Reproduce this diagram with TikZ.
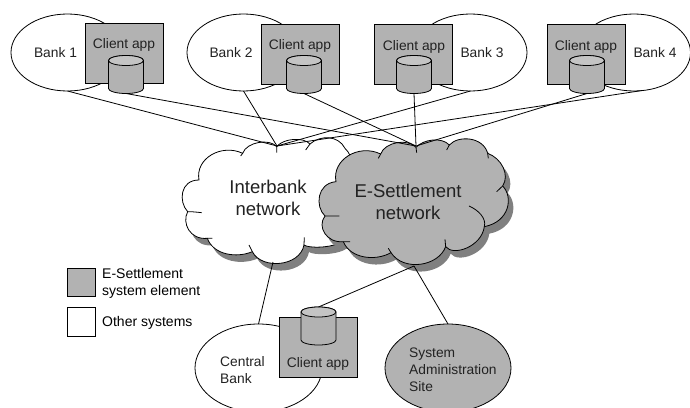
\documentclass[tikz,border=0pt]{standalone}
\usepackage{fontspec}
\setmainfont{Liberation Sans}
\usetikzlibrary{shapes.geometric}

\definecolor{elementgrey}{HTML}{B2B2B2}
\definecolor{endgrey}{HTML}{C4C4C4}
\definecolor{shadowgrey}{HTML}{808080}
\definecolor{textgrey}{HTML}{222222}

\tikzset{
    outline/.style={line width=0.8pt, draw=black},
    bank/.style={outline, ellipse, fill=white, minimum width=113pt, minimum height=77pt, inner sep=0pt, outer sep=0pt},
    admin/.style={bank, fill=elementgrey, minimum width=126pt, minimum height=88pt},
    appbox/.style={outline, fill=elementgrey, minimum width=78pt, minimum height=60pt, inner sep=0pt, outer sep=0pt},
    storebody/.style={minimum width=35pt, minimum height=38pt, inner sep=0pt, outer sep=0pt},
    label/.style={font=\fontsize{13.8}{17}\selectfont, text=textgrey, inner sep=0pt, align=left},
    bigLabel/.style={font=\fontsize{18.5}{21.5}\selectfont, text=textgrey, inner sep=0pt, align=center},
    legendbox/.style={outline, minimum width=28.5pt, minimum height=28.5pt, inner sep=0pt, outer sep=0pt},
    link/.style={line width=0.8pt}
}

% A store: name, then position
\newcommand{\storage}[2]{
    \node[storebody] (#1) at (#2) {};
    \draw[outline, fill=elementgrey] ([yshift=-5pt]#1.north west)
        -- ([yshift=5pt]#1.south west)
        arc[start angle=180, end angle=360, x radius=17.5pt, y radius=5pt]
        -- ([yshift=-5pt]#1.north east)
        arc[start angle=0, end angle=180, x radius=17.5pt, y radius=5pt] -- cycle;
    \draw[outline, fill=endgrey] ([yshift=-5pt]#1.north) ellipse [x radius=17.5pt, y radius=5pt];
}

% Cloud outlines, in units of a third of a pixel
\newcommand{\interbankpath}{
    (72,150) .. controls (60,85) and (140,40) .. (203,70)
    .. controls (215,35) and (285,25) .. (305,50)
    .. controls (325,25) and (385,20) .. (405,42)
    .. controls (435,15) and (490,15) .. (510,55)
    .. controls (560,100) and (560,300) .. (500,335)
    .. controls (470,355) and (400,355) .. (387,345)
    .. controls (375,410) and (260,420) .. (232,365)
    .. controls (185,385) and (115,375) .. (97,325)
    .. controls (45,330) and (20,280) .. (38,245)
    .. controls (10,215) and (15,150) .. (72,150) -- cycle}
\newcommand{\interbankticks}{
    (203,70) -- (197,78)
    (305,50) -- (305,68)
    (405,42) -- (392,60)
    (387,345) -- (388,322)
    (232,365) -- (222,345)
    (97,325) -- (112,325)
    (38,245) .. controls (50,245) .. (80,248)}
\newcommand{\settlementpath}{
    (78,155) .. controls (65,90) and (145,40) .. (212,72)
    .. controls (225,35) and (295,25) .. (318,52)
    .. controls (340,28) and (395,20) .. (418,45)
    .. controls (445,15) and (520,20) .. (533,70)
    .. controls (575,85) and (600,135) .. (578,168)
    .. controls (610,200) and (600,275) .. (523,290)
    .. controls (515,350) and (430,380) .. (407,350)
    .. controls (385,410) and (280,425) .. (243,368)
    .. controls (195,395) and (120,385) .. (100,335)
    .. controls (50,340) and (20,290) .. (45,258)
    .. controls (15,230) and (20,160) .. (78,155) -- cycle}
\newcommand{\settlementticks}{
    (212,72) -- (205,85)
    (318,52) -- (320,68)
    (418,45) -- (410,60)
    (533,70) -- (535,85)
    (578,168) -- (560,185)
    (523,290) .. controls (530,265) and (505,240) .. (477,228)
    (407,350) -- (405,328)
    (243,368) -- (235,355)
    (100,335) -- (120,335)
    (45,258) .. controls (60,258) .. (88,258)}

\begin{document}
\begin{tikzpicture}[x=1pt, y=-1pt]
    \useasboundingbox (0,0) rectangle (690,407);
    \clip (0,0) rectangle (690,407);

    % Banks along the top, each with its client app and store
    \node[bank] (bank1) at (67.5,52.5) {};
    \node[appbox] (app1) at (124,53) {};
    \storage{store1}{126,74.5}
    \node[label] (bank1text) at (55.5,53) {Bank 1};
    \node[label] (app1text) at (124,45) {Client app};

    \node[bank] (bank2) at (243.5,52.5) {};
    \node[appbox] (app2) at (300,54) {};
    \storage{store2}{304,74.5}
    \node[label] (bank2text) at (231,53) {Bank 2};
    \node[label] (app2text) at (300,46) {Client app};

    \node[bank] (bank3) at (470.5,52.5) {};
    \node[appbox] (app3) at (413.5,54.5) {};
    \storage{store3}{414,74.5}
    \node[label] (bank3text) at (482,53) {Bank 3};
    \node[label] (app3text) at (414,47) {Client app};

    \node[bank] (bank4) at (634,52.5) {};
    \node[appbox] (app4) at (586.5,54.5) {};
    \storage{store4}{587,74.5}
    \node[label] (bank4text) at (655,53) {Bank 4};
    \node[label] (app4text) at (586,47) {Client app};

    % Central bank and administration site
    \node[bank, minimum width=127pt, minimum height=88pt] (central) at (258.5,368) {};
    \node[appbox] (app5) at (318,347) {};
    \storage{store5}{318.5,326}
    \node[label] (centraltext) at (220,370) [anchor=west] {Central\\Bank};
    \node[label] (app5text) at (318,364) {Client app};
    \node[admin] (site) at (448,368) {};
    \node[label] (sitetext) at (409,370) [anchor=west] {System\\Administration\\Site};

    % Clouds with their shadows
    \begin{scope}[shift={(180,137)}, x=0.3333pt, y=-0.3333pt]
        \fill[shadowgrey] \interbankpath;
    \end{scope}
    \begin{scope}[shift={(175,130)}, x=0.3333pt, y=-0.3333pt]
        \draw[outline, fill=white] \interbankpath;
        \draw[outline] \interbankticks;
    \end{scope}
    \begin{scope}[shift={(315,137)}, x=0.3333pt, y=-0.3333pt]
        \fill[shadowgrey] \settlementpath;
    \end{scope}
    \begin{scope}[shift={(310,130)}, x=0.3333pt, y=-0.3333pt]
        \draw[outline, fill=elementgrey] \settlementpath;
        \draw[outline] \settlementticks;
    \end{scope}
    \node[bigLabel] (interbanktext) at (268,198) {Interbank\\network};
    \node[bigLabel] (settlementtext) at (408,202) {E-Settlement\\network};

    % Links into the clouds
    \coordinate (interhub) at (277,146);
    \coordinate (settlehub) at (416,146);
    \coordinate (interfoot) at (273,262);
    \coordinate (settlefoot) at (414,266);

    \draw[link] (bank1.south) -- (interhub);
    \draw[link] (bank2.south) -- (interhub);
    \draw[link] (bank3.south) -- (interhub);
    \draw[link] (bank4.-80) -- (interhub);
    \draw[link] (store1.south) -- (settlehub);
    \draw[link] (store2.south) -- (settlehub);
    \draw[link] (store3.south) -- (settlehub);
    \draw[link] (store4.south) -- (settlehub);
    \draw[link] (interfoot) -- (central.north);
    \draw[link] (settlefoot) -- (store5.north);
    \draw[link] (settlefoot) -- (site.north);

    % Legend
    \node[legendbox, fill=elementgrey] (keyelement) at (81.5,282.5) {};
    \node[label, text=black, font=\fontsize{14}{17}\selectfont] (keyelementtext) at (102,283.5) [anchor=west] {E-Settlement\\system element};
    \node[legendbox, fill=white] (keyother) at (81.5,322) {};
    \node[label, text=black, font=\fontsize{14}{17}\selectfont] (keyothertext) at (102,323) [anchor=west] {Other systems};
\end{tikzpicture}
\end{document}
